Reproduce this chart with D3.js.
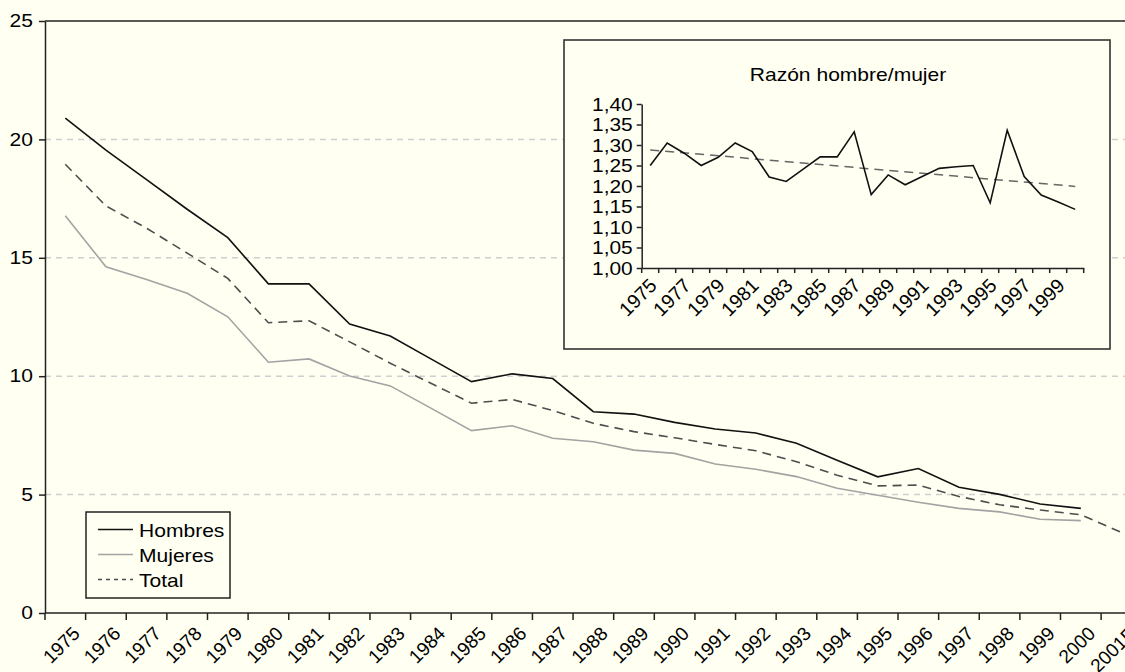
<!DOCTYPE html>
<html lang="es">
<head>
<meta charset="UTF-8">
<title>Tasa por sexo 1975-2001P</title>
<script src="https://d3js.org/d3.v7.min.js"></script>
<style>
    body{
        margin:0;
        background:#fffff2;
    }
    .chart{
        font-family: "Liberation Sans", Arial, sans-serif;
        background:#fffff2;
    }
    .chart text{
        fill:#000;
    }
    .axis path, .axis line{
        stroke:#222;
        stroke-width:1.5px;
    }
</style>
</head>
<body>
<svg class="chart" width="1125" height="672"></svg>
<script>
// main chart data
const years = ['1975','1976','1977','1978','1979','1980','1981','1982','1983','1984','1985','1986','1987',
               '1988','1989','1990','1991','1992','1993','1994','1995','1996','1997','1998','1999','2000','2001P'];
const hombres = [20.9,19.55,18.3,17.05,15.85,13.9,13.9,12.2,11.7,10.73,9.77,10.1,9.9,
                 8.5,8.4,8.05,7.77,7.6,7.17,6.45,5.75,6.1,5.31,5.01,4.6,4.42];
const mujeres = [16.78,14.62,14.08,13.5,12.51,10.59,10.73,10.01,9.59,8.65,7.7,7.91,7.38,
                 7.23,6.88,6.74,6.29,6.07,5.76,5.27,4.97,4.68,4.42,4.27,3.96,3.9];
const total = [18.95,17.19,16.25,15.2,14.13,12.26,12.34,11.45,10.55,9.7,8.86,9.02,8.55,
               8.01,7.66,7.4,7.12,6.85,6.39,5.82,5.37,5.4,4.92,4.57,4.35,4.15,3.4];
const yTicks = [0,5,10,15,20,25];

// inset data
const ratioYears = years.slice(0,26);
const ratio = [1.25,1.305,1.28,1.25,1.27,1.305,1.284,1.222,1.211,1.241,1.271,1.271,1.332,
               1.179,1.227,1.203,1.223,1.243,1.247,1.25,1.159,1.336,1.223,1.178,1.161,1.143];
const trendYears = ['1975','2000'];
const trend = [1.288,1.199];
const ratioTicks = [1.00,1.05,1.10,1.15,1.20,1.25,1.30,1.35,1.40];

const svg = d3.select('.chart');
const comma = d3.formatLocale({decimal:',',thousands:'.',grouping:[3],currency:['','']}).format('.2f');
// the source picture is a bit stretched sideways, so flat text gets a small x scale
const SX = 1.17;

// ---- main chart ----
const plotLeft=45, plotTop=21, plotBottom=613;
const x = d3.scaleBand().domain(years).range([plotLeft, plotLeft+27*40.62]);
const y = d3.scaleLinear().domain([0,25]).range([plotBottom, plotTop]);
const cx = d => x(d)+x.bandwidth()/2;

// gridlines
svg.append('g').selectAll('line')
    .data(yTicks.filter(d=>d>0 && d<25)).enter()
    .append('line')
    .attr('x1',plotLeft).attr('x2',1125)
    .attr('y1',d=>y(d)).attr('y2',d=>y(d))
    .attr('stroke','#cfcfcf').attr('stroke-width',1.5)
    .attr('stroke-dasharray','6,5');

// top frame line
svg.append('line')
    .attr('x1',plotLeft).attr('x2',1125)
    .attr('y1',y(25)).attr('y2',y(25))
    .attr('stroke','#222').attr('stroke-width',1.5);

const yAxis = svg.append('g')
    .attr('class','axis')
    .attr('transform','translate('+plotLeft+',0)')
    .call(d3.axisLeft(y).tickValues(yTicks).tickSize(6).tickSizeOuter(0));
yAxis.selectAll('text')
    .attr('font-size','18px').attr('x',0)
    .attr('transform','translate(-12,0) scale('+SX+',1)');

const xAxis = svg.append('g')
    .attr('class','axis')
    .attr('transform','translate(0,'+plotBottom+')')
    .call(d3.axisBottom(x).tickSize(0).tickSizeOuter(0));
xAxis.select('.domain').attr('d','M'+plotLeft+',0H1125');
xAxis.selectAll('.tick text')
    .attr('font-size','19px')
    .attr('text-anchor','end')
    .attr('y',0).attr('dy','0.35em')
    .attr('transform','translate(11,17) rotate(-45)');
// boundary ticks
xAxis.append('g').selectAll('line')
    .data(years.concat(['end'])).enter()
    .append('line')
    .attr('x1',(d,i)=>plotLeft+i*x.step()).attr('x2',(d,i)=>plotLeft+i*x.step())
    .attr('y1',0).attr('y2',7)
    .attr('stroke','#222').attr('stroke-width',1.5);

const line = d3.line().x(d=>cx(d[0])).y(d=>y(d[1]));
const series = [
    {name:'Hombres', values:hombres, color:'#111', dash:null, w:1.6},
    {name:'Mujeres', values:mujeres, color:'#a3a3a3', dash:null, w:1.6},
    {name:'Total', values:total, color:'#4d4d4d', dash:'9,6', w:1.6}
];
series.forEach(s=>{
    svg.append('path')
        .datum(s.values.map((v,i)=>[years[i],v]))
        .attr('d',line)
        .attr('fill','none')
        .attr('stroke',s.color)
        .attr('stroke-width',s.w)
        .attr('stroke-dasharray',s.dash);
});

// legend
const lg = svg.append('g').attr('transform','translate(86,512)');
lg.append('rect').attr('width',144).attr('height',86)
    .attr('fill','#fffff2').attr('stroke','#222').attr('stroke-width',1.5);
series.forEach((s,i)=>{
    lg.append('line')
        .attr('x1',12).attr('x2',47)
        .attr('y1',17.5+i*25).attr('y2',17.5+i*25)
        .attr('stroke',s.color).attr('stroke-width',1.5)
        .attr('stroke-dasharray',s.dash ? '4,4' : null);
    lg.append('text')
        .attr('transform','translate(53,'+(24.5+i*25)+') scale('+SX+',1)')
        .attr('font-size','18px')
        .text(s.name);
});

// ---- inset ----
const box = {x:564, y:40, w:546, h:309};
svg.append('rect')
    .attr('x',box.x).attr('y',box.y).attr('width',box.w).attr('height',box.h)
    .attr('fill','#fffff2').attr('stroke','#333').attr('stroke-width',1.6);

svg.append('text')
    .attr('transform','translate(848,81) scale('+SX+',1)')
    .attr('text-anchor','middle')
    .attr('font-size','18px')
    .text('Razón hombre/mujer');

const ix = d3.scaleBand().domain(ratioYears).range([641.7, 641.7+26*17]);
const iy = d3.scaleLinear().domain([1,1.4]).range([268,104]);
const icx = d => ix(d)+ix.bandwidth()/2;

const iyAxis = svg.append('g')
    .attr('class','axis')
    .attr('transform','translate(641.7,0)')
    .call(d3.axisLeft(iy).tickValues(ratioTicks).tickFormat(comma).tickSize(5).tickSizeOuter(0));
iyAxis.selectAll('text')
    .attr('font-size','19px').attr('x',0)
    .attr('transform','translate(-9,0) scale(1.1,1)');

const ixAxis = svg.append('g')
    .attr('class','axis')
    .attr('transform','translate(0,268)')
    .call(d3.axisBottom(ix).tickSize(0).tickSizeOuter(0));
ixAxis.selectAll('.tick text')
    .attr('font-size','19.5px')
    .attr('text-anchor','end')
    .attr('y',0).attr('dy','0.35em')
    .attr('transform','translate(3,14) rotate(-45)')
    .style('display',(d,i)=> i%2===0 ? null : 'none');
ixAxis.append('g').selectAll('line')
    .data(ratioYears.concat(['end'])).enter()
    .append('line')
    .attr('x1',(d,i)=>641.7+i*ix.step()).attr('x2',(d,i)=>641.7+i*ix.step())
    .attr('y1',0).attr('y2',5)
    .attr('stroke','#222').attr('stroke-width',1.5);

const iline = d3.line().x(d=>icx(d[0])).y(d=>iy(d[1]));
svg.append('path')
    .datum(trend.map((v,i)=>[trendYears[i],v]))
    .attr('d',iline)
    .attr('fill','none').attr('stroke','#666').attr('stroke-width',1.5)
    .attr('stroke-dasharray','9,6');
svg.append('path')
    .datum(ratio.map((v,i)=>[ratioYears[i],v]))
    .attr('d',iline)
    .attr('fill','none').attr('stroke','#111').attr('stroke-width',1.6);
</script>
</body>
</html>
